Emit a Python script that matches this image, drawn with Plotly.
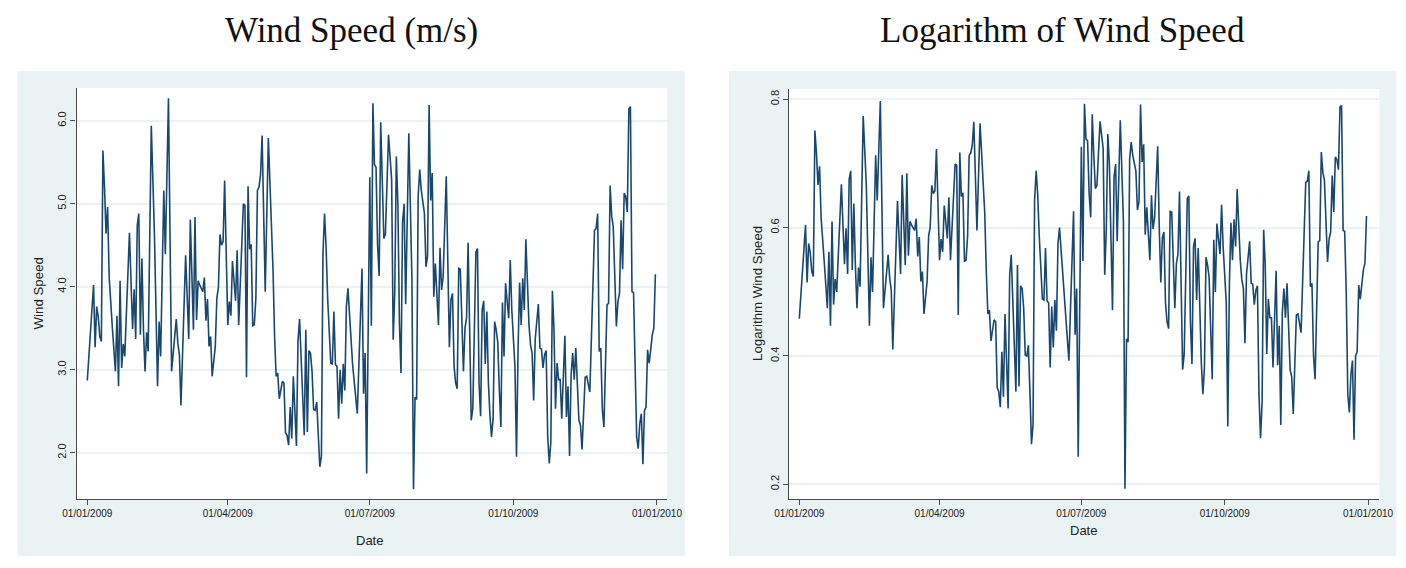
import numpy as np
import pandas as pd
import plotly.graph_objects as go

# ---------------- data ----------------
# day offset from 01/01/2009 and the wind speed read at that day
day_offsets = [
    0, 4, 5, 6, 7, 8, 9, 10, 11, 12, 13, 14, 16, 18, 19, 20, 21, 22, 23, 24,
    27, 29, 30, 31, 32, 33, 34, 35, 36, 37, 38, 39, 41, 43, 45, 46, 47, 49, 50, 52,
    54, 57, 58, 59, 60, 63, 65, 66, 68, 69, 70, 71, 72, 74, 75, 76, 77, 78, 79, 80,
    82, 83, 84, 85, 86, 87, 88, 90, 91, 92, 93, 95, 96, 97, 100, 101, 102, 103, 104, 105,
    106, 107, 108, 109, 110, 111, 112, 113, 114, 116, 118, 119, 120, 121, 122, 123, 125, 126, 127, 128,
    129, 130, 131, 132, 134, 135, 136, 138, 139, 140, 141, 142, 143, 144, 145, 146, 147, 148, 149, 150,
    151, 152, 153, 154, 155, 156, 157, 158, 159, 160, 161, 162, 163, 164, 165, 166, 167, 169, 170, 173,
    176, 177, 178, 179, 181, 182, 183, 184, 185, 186, 187, 188, 189, 190, 191, 192, 193, 195, 196, 197,
    198, 199, 200, 201, 202, 203, 204, 206, 208, 209, 210, 211, 212, 213, 214, 216, 217, 218, 219, 220,
    221, 222, 223, 225, 226, 227, 228, 230, 231, 232, 233, 234, 235, 236, 237, 238, 239, 241, 242, 243,
    244, 245, 246, 247, 249, 250, 251, 252, 253, 254, 255, 256, 257, 258, 259, 260, 261, 262, 263, 264,
    265, 266, 267, 268, 269, 270, 271, 272, 274, 275, 276, 277, 278, 279, 280, 281, 283, 284, 285, 286,
    287, 288, 289, 290, 291, 292, 293, 294, 295, 296, 297, 298, 299, 300, 301, 302, 303, 304, 306, 307,
    308, 309, 310, 311, 312, 313, 315, 316, 317, 319, 320, 322, 323, 325, 326, 327, 328, 329, 330, 331,
    333, 334, 335, 336, 337, 339, 340, 341, 342, 343, 344, 345, 346, 347, 348, 349, 350, 351, 352, 353,
    354, 355, 356, 357, 358, 359, 360, 361, 362, 363, 364,
]
wind_speed = [
    2.87, 4.02, 3.27, 3.76, 3.64, 3.40, 3.34, 5.64, 5.20, 4.64, 4.96, 4.12, 3.52, 2.98, 3.65, 2.80, 4.07, 3.02, 3.31, 3.16,
    4.65, 3.49, 3.97, 3.37, 4.74, 4.88, 3.42, 4.34, 3.47, 2.98, 3.45, 3.22, 5.94, 4.64, 2.80, 3.58, 3.16, 5.16, 4.39, 6.27,
    2.98, 3.61, 3.32, 3.18, 2.57, 4.38, 3.37, 4.81, 3.48, 4.84, 3.60, 4.07, 4.02, 3.94, 4.11, 3.59, 3.85, 3.28, 3.40, 2.92,
    3.28, 3.86, 3.99, 4.63, 4.50, 4.54, 5.28, 3.54, 3.82, 3.65, 4.31, 3.83, 4.44, 3.54, 5.00, 4.98, 2.91, 5.21, 4.45, 4.51,
    3.53, 3.54, 3.86, 5.16, 5.20, 5.35, 5.82, 4.78, 3.94, 5.79, 4.78, 4.20, 3.40, 2.92, 2.96, 2.65, 2.86, 2.84, 2.24, 2.21,
    2.09, 2.55, 2.17, 2.92, 2.08, 3.35, 3.61, 2.65, 2.21, 3.48, 2.25, 3.23, 3.20, 2.98, 2.52, 2.51, 2.61, 2.21, 1.83, 1.96,
    4.40, 4.88, 4.48, 3.86, 3.48, 3.08, 3.07, 3.70, 3.06, 3.04, 2.41, 3.00, 2.59, 3.07, 2.75, 3.76, 3.98, 3.42, 3.06, 2.47,
    4.22, 2.71, 3.20, 1.75, 5.32, 3.53, 6.21, 5.47, 5.44, 4.50, 4.13, 5.98, 5.16, 4.58, 4.63, 5.37, 5.83, 5.29, 3.36, 3.94,
    5.57, 5.00, 3.56, 2.96, 4.78, 5.00, 3.79, 5.85, 4.08, 1.56, 2.67, 2.64, 5.09, 5.41, 5.16, 4.88, 4.24, 4.37, 6.19, 5.04,
    5.37, 3.88, 4.28, 3.54, 4.47, 3.96, 4.12, 5.33, 3.98, 3.27, 3.84, 3.92, 3.04, 2.84, 2.77, 4.22, 4.21, 2.98, 3.50, 3.62,
    4.53, 3.27, 2.39, 2.53, 4.42, 4.46, 2.84, 2.44, 3.72, 3.83, 3.07, 3.70, 2.84, 2.45, 2.19, 2.41, 3.58, 3.48, 3.33, 2.76,
    2.31, 3.81, 3.16, 4.04, 3.79, 3.62, 4.32, 3.72, 3.04, 1.95, 3.24, 4.05, 3.54, 4.10, 3.72, 4.57, 3.54, 3.30, 3.20, 2.63,
    3.37, 3.56, 3.79, 3.26, 3.25, 3.02, 3.18, 3.23, 2.19, 1.87, 2.13, 3.95, 3.49, 2.53, 3.08, 2.88, 2.88, 2.41, 3.41, 2.43,
    2.80, 1.96, 2.94, 3.20, 2.88, 3.26, 2.39, 2.33, 2.04, 2.91, 2.92, 2.73, 3.30, 4.68, 4.70, 4.88, 3.22, 3.26, 2.52, 2.31,
    3.78, 3.80, 5.22, 4.85, 4.72, 3.52, 3.82, 3.92, 4.80, 4.21, 5.13, 5.08, 4.90, 6.14, 6.17, 3.94, 3.93, 3.16, 2.19, 2.05,
    2.35, 2.47, 1.86, 2.51, 2.55, 3.24, 3.08, 3.24, 3.42, 3.50, 4.15,
]
tick_dates = ["2009-01-01", "2009-04-01", "2009-07-01", "2009-10-01", "2010-01-01"]
tick_labels = ["01/01/2009", "01/04/2009", "01/07/2009", "01/10/2009", "01/01/2010"]
wind_ticks = [2.0, 3.0, 4.0, 5.0, 6.0]
log_ticks = [0.2, 0.4, 0.6, 0.8]
panel_titles = ["Wind Speed (m/s)", "Logarithm of Wind Speed"]
y_titles = ["Wind Speed", "Logarithm Wind Speed"]
x_title = "Date"

base = pd.Timestamp("2009-01-01")
dates = base + pd.to_timedelta(day_offsets, unit="D")
log_wind = np.log10(np.array(wind_speed))

# ---------------- styling ----------------
W, H = 1406, 568
LINE = "#1a476f"
BG = "#eaf2f3"
GRID = "#eaf2f3"
AXIS = "#4a4a4a"
SANS = "Liberation Sans, Arial, sans-serif"
SERIF = "Liberation Serif, Times New Roman, serif"

# the page is photographed slightly narrower than the layout width;
# map target pixel columns to paper fractions accordingly
X_OFF, X_SCALE = 15.5, 0.978


def fx(px):
    return ((px - X_OFF) / X_SCALE) / W


def fy(py):
    return 1 - py / H


fig = go.Figure()
fig.add_trace(go.Scatter(x=dates, y=wind_speed, mode="lines",
                         line=dict(color=LINE, width=1.6), xaxis="x", yaxis="y",
                         showlegend=False, hoverinfo="skip"))
fig.add_trace(go.Scatter(x=dates, y=log_wind, mode="lines",
                         line=dict(color=LINE, width=1.6), xaxis="x2", yaxis="y2",
                         showlegend=False, hoverinfo="skip"))

day = pd.Timedelta(days=1)

common_x = dict(
    type="date", tickvals=tick_dates, ticktext=tick_labels,
    ticks="outside", ticklen=5, tickcolor=AXIS, tickwidth=1,
    showline=True, linecolor=AXIS, linewidth=1.2, showgrid=False,
    zeroline=False, tickfont=dict(family=SANS, size=10, color="#222222"),
)
common_y = dict(
    ticks="outside", ticklen=5, tickcolor=AXIS, tickwidth=1, tickangle=-90,
    showline=True, linecolor=AXIS, linewidth=1.2, showgrid=True,
    gridcolor=GRID, gridwidth=1.5, zeroline=False,
    tickfont=dict(family=SANS, size=11, color="#222222"),
)

fig.update_layout(
    width=W, height=H, autosize=False,
    margin=dict(l=0, r=0, t=0, b=0),
    paper_bgcolor="white", plot_bgcolor="rgba(0,0,0,0)",
    xaxis=dict(domain=[fx(77), fx(667)], anchor="y",
               range=[base - 6.9 * day, base + 371.4 * day], **common_x),
    yaxis=dict(domain=[fy(499), fy(88)], anchor="x",
               range=[1.442, 6.394], tickvals=wind_ticks,
               ticktext=[f"{v:.1f}" for v in wind_ticks], **common_y),
    xaxis2=dict(domain=[fx(789), fx(1379)], anchor="y2",
                range=[base - 6.6 * day, base + 372.3 * day], **common_x),
    yaxis2=dict(domain=[fy(499), fy(89)], anchor="x2",
                range=[0.177, 0.816], tickvals=log_ticks,
                ticktext=[f"{v:.1f}" for v in log_ticks], **common_y),
)

shapes = []
for x0, x1 in [(18, 685), (729, 1396)]:
    shapes.append(dict(type="rect", xref="paper", yref="paper", layer="below",
                       x0=fx(x0), x1=fx(x1), y0=fy(556), y1=fy(71),
                       fillcolor=BG, line=dict(width=0)))
for x0, x1, ytop in [(77, 667, 88), (789, 1379, 89)]:
    shapes.append(dict(type="rect", xref="paper", yref="paper", layer="below",
                       x0=fx(x0), x1=fx(x1), y0=fy(499), y1=fy(ytop),
                       fillcolor="white", line=dict(width=0)))
fig.update_layout(shapes=shapes)

ann = []
for cx, t in zip([352, 1062], panel_titles):
    ann.append(dict(text=t, x=fx(cx), y=fy(30), xref="paper", yref="paper",
                    showarrow=False, xanchor="center", yanchor="middle",
                    font=dict(family=SERIF, size=35, color="#111111")))
for cx, t in zip([38, 757], y_titles):
    ann.append(dict(text=t, x=fx(cx), y=fy(294), xref="paper", yref="paper",
                    showarrow=False, xanchor="center", yanchor="middle", textangle=-90,
                    font=dict(family=SANS, size=13.3, color="#222222")))
for cx, cy in [(370, 540), (1083, 530)]:
    ann.append(dict(text=x_title, x=fx(cx), y=fy(cy), xref="paper", yref="paper",
                    showarrow=False, xanchor="center", yanchor="middle",
                    font=dict(family=SANS, size=13, color="#222222")))
fig.update_layout(annotations=ann)

post = ("document.body.style.margin='0';document.body.style.padding='0';"
        "document.body.style.overflow='hidden';"
        "document.documentElement.style.overflow='hidden';")
fig.write_html("out.html", config={"responsive": False, "displayModeBar": False},
               post_script=post)
